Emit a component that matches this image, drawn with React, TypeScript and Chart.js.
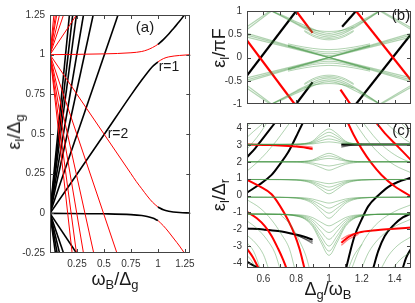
import React, { useEffect, useRef } from 'react';
import { Chart, registerables } from 'chart.js';

Chart.register(...registerables);

type P = [number, number];

const FONT = "'Liberation Sans', Arial, Helvetica, sans-serif";
const RED = '#ff0000';
const BLACK = '#000000';
const GREEN = 'rgba(70,150,70,0.42)';
const FRAME = '#444444';

// ---------------- panel (a) ----------------
const A_X_TICKS = [0.25, 0.5, 0.75, 1, 1.25];
const A_X_LABELS = ['0.25', '0.5', '0.75', '1', '1.25'];
const A_Y_TICKS = [-0.25, 0, 0.25, 0.5, 0.75, 1, 1.25];
const A_Y_LABELS = ['-0.25', '0', '0.25', '0.5', '0.75', '1', '1.25'];

// black levels leaving the origin (up and down)
const A_BLACK_FAN: P[][] = [
  [[0, 0], [0.63, 1.25]], [[0, 0], [0.40, 1.25]], [[0, 0], [0.31, 1.25]],
  [[0, 0], [0.245, 1.25]], [[0, 0], [0.21, 1.25]], [[0, 0], [0.18, 1.25]],
  [[0, 0], [0.245, -0.25]], [[0, 0], [0.125, -0.25]], [[0, 0], [0.088, -0.25]],
  [[0, 0], [0.066, -0.25]], [[0, 0], [0.05, -0.25]],
];
// red levels leaving (0,1) (up and down)
const A_RED_FAN: P[][] = [
  [[0, 1], [0.245, 1.25]], [[0, 1], [0.125, 1.25]], [[0, 1], [0.088, 1.25]],
  [[0, 1], [0.062, 1.25]], [[0, 1], [0.05, 1.25]], [[0, 1], [0.036, 1.25]],
  [[0, 1], [0.62, -0.25]], [[0, 1], [0.405, -0.25]], [[0, 1], [0.31, -0.25]],
  [[0, 1], [0.245, -0.25]], [[0, 1], [0.205, -0.25]],
];
// anticrossing branches
const A_LOWER1_BLACK: P[] = [[0, 0], [0.5, 0.495], [0.75, 0.745], [0.85, 0.84], [0.9, 0.885], [0.95, 0.925], [1.0, 0.955]];
const A_LOWER1_RED: P[] = [[1.0, 0.955], [1.05, 0.975], [1.1, 0.986], [1.2, 0.995], [1.3, 1.0]];
const A_UPPER1_RED: P[] = [[0, 1], [0.5, 1.005], [0.75, 1.012], [0.85, 1.02], [0.9, 1.03], [0.95, 1.045], [1.0, 1.065]];
const A_UPPER1_BLACK: P[] = [[1.0, 1.065], [1.05, 1.095], [1.1, 1.13], [1.15, 1.17], [1.2, 1.21], [1.245, 1.25]];
const A_UPPER0_RED: P[] = [[0, 1], [0.5, 0.5], [0.75, 0.25], [0.8, 0.2], [0.85, 0.155], [0.9, 0.11], [0.95, 0.07], [1.0, 0.04]];
const A_UPPER0_BLACK: P[] = [[1.0, 0.04], [1.05, 0.022], [1.1, 0.013], [1.2, 0.005], [1.3, 0.002]];
const A_LOWER0_BLACK: P[] = [[0, 0], [0.5, -0.003], [0.75, -0.008], [0.85, -0.014], [0.9, -0.02], [0.95, -0.03], [1.0, -0.045]];
const A_LOWER0_RED: P[] = [[1.0, -0.045], [1.05, -0.078], [1.1, -0.118], [1.15, -0.162], [1.2, -0.206], [1.245, -0.25]];

// ---------------- panel (b) ----------------
const BC_X_TICKS = [0.6, 0.7, 0.8, 0.9, 1, 1.1, 1.2, 1.3, 1.4];
const BC_X_LABELS = ['0.6', '', '0.8', '', '1', '', '1.2', '', '1.4'];
const B_Y_TICKS = [-1, -0.5, 0, 0.5, 1];
const B_Y_LABELS = ['-1', '-0.5', '0', '0.5', '1'];

const B_BLACK: P[][] = [
  [[0.5, -0.39], [0.8, 1.0]],
  [[0.8, -1.0], [0.9, -0.53]],
  [[1.08, 0.66], [1.165, 1.0]],
  [[1.165, -1.0], [1.5, 0.5]],
];
const B_RED: P[][] = [
  [[0.5, 0.37], [0.79, -1.0]],
  [[0.8, 1.0], [0.9, 0.53]],
  [[1.165, 1.0], [1.5, -0.49]],
  [[1.07, -0.69], [1.13, -1.0]],
];
const B_GREEN_DIAG: P[][] = [
  [[0.5, 0.44], [1.5, -0.44]], [[0.5, 0.48], [1.5, -0.48]], [[0.5, 0.52], [1.5, -0.52]],
  [[0.5, -0.44], [1.5, 0.44]], [[0.5, -0.48], [1.5, 0.48]], [[0.5, -0.52], [1.5, 0.52]],
];
const B_ARC_X = [0.75, 0.8, 0.85, 0.9, 0.95, 1.0, 1.05, 1.1, 1.15, 1.2, 1.25];
const B_ARCS_UP = [
  [0.243, 0.196, 0.149, 0.104, 0.062, 0.04, 0.062, 0.104, 0.149, 0.196, 0.243],
  [0.253, 0.208, 0.165, 0.125, 0.093, 0.08, 0.093, 0.125, 0.165, 0.208, 0.253],
  [0.268, 0.226, 0.187, 0.153, 0.129, 0.12, 0.129, 0.153, 0.187, 0.226, 0.268],
  [0.294, 0.256, 0.223, 0.196, 0.177, 0.17, 0.177, 0.196, 0.223, 0.256, 0.294],
];
const B_ARCS_DOWN = [
  [-0.243, -0.196, -0.149, -0.104, -0.062, -0.04, -0.062, -0.104, -0.149, -0.196, -0.243],
  [-0.253, -0.208, -0.165, -0.125, -0.093, -0.08, -0.093, -0.125, -0.165, -0.208, -0.253],
  [-0.268, -0.226, -0.187, -0.153, -0.129, -0.12, -0.129, -0.153, -0.187, -0.226, -0.268],
  [-0.294, -0.256, -0.223, -0.196, -0.177, -0.17, -0.177, -0.196, -0.223, -0.256, -0.294],
];
const B_U_X = [0.65, 0.72, 0.8, 0.87, 0.93, 1.0, 1.07, 1.13, 1.2, 1.26, 1.31];
const B_U_TOP = [
  [1.0, 0.88, 0.74, 0.62, 0.53, 0.48, 0.53, 0.62, 0.76, 0.89, 1.0],
  [1.0, 0.87, 0.72, 0.59, 0.49, 0.44, 0.49, 0.59, 0.74, 0.88, 1.0],
  [1.0, 0.9, 0.77, 0.66, 0.57, 0.52, 0.57, 0.66, 0.79, 0.91, 1.0],
];
const B_U_BOTTOM = [
  [-1.0, -0.88, -0.74, -0.62, -0.53, -0.48, -0.53, -0.62, -0.76, -0.89, -1.0],
  [-1.0, -0.87, -0.72, -0.59, -0.49, -0.44, -0.49, -0.59, -0.74, -0.88, -1.0],
  [-1.0, -0.9, -0.77, -0.66, -0.57, -0.52, -0.57, -0.66, -0.79, -0.91, -1.0],
];
const B_INNER_X = [0.85, 0.9, 0.95, 1, 1.05, 1.1, 1.15];
const B_INNER = [
  [0.56, 0.46, 0.4, 0.38, 0.4, 0.46, 0.56],
  [0.58, 0.49, 0.43, 0.41, 0.43, 0.49, 0.58],
  [0.66, 0.6, 0.57, 0.56, 0.57, 0.6, 0.66],
  [-0.56, -0.46, -0.4, -0.38, -0.4, -0.46, -0.56],
  [-0.58, -0.49, -0.43, -0.41, -0.43, -0.49, -0.58],
  [-0.66, -0.6, -0.57, -0.56, -0.57, -0.6, -0.66],
];
const B_GREEN_EDGES: P[][] = [
  [[0.5, 0.6], [0.65, 1.0]], [[0.5, 0.66], [0.64, 1.0]],
  [[1.31, 1.0], [1.5, 0.6]], [[1.32, 1.0], [1.5, 0.64]],
  [[0.5, -0.6], [0.65, -1.0]], [[0.5, -0.66], [0.64, -1.0]],
  [[1.31, -1.0], [1.5, -0.6]], [[1.32, -1.0], [1.5, -0.64]],
];

// ---------------- panel (c) ----------------
const C_Y_TICKS = [-4, -3, -2, -1, 0, 1, 2, 3, 4];
const C_Y_LABELS = ['-4', '-3', '-2', '-1', '0', '1', '2', '3', '4'];
const C_X = [0.5, 0.7, 0.8, 0.85, 0.9, 0.95, 1.0, 1.05, 1.1, 1.15, 1.2, 1.3, 1.5];
const C_BANDS = [
  [3.03, 3.03, 3.04, 3.08, 3.23, 3.66, 3.95, 3.66, 3.23, 3.08, 3.04, 3.03, 3.03],
  [3.03, 3.03, 3.04, 3.07, 3.19, 3.52, 3.75, 3.52, 3.19, 3.07, 3.04, 3.03, 3.03],
  [3.03, 3.03, 3.04, 3.06, 3.14, 3.38, 3.55, 3.38, 3.14, 3.06, 3.04, 3.03, 3.03],
  [3.03, 3.03, 3.03, 3.05, 3.1, 3.25, 3.35, 3.25, 3.1, 3.05, 3.03, 3.03, 3.03],
  [3.03, 3.03, 3.03, 3.04, 3.06, 3.13, 3.18, 3.13, 3.06, 3.04, 3.03, 3.03, 3.03],
  [2, 2, 2.01, 2.03, 2.11, 2.34, 2.5, 2.34, 2.11, 2.03, 2.01, 2, 2],
  [2, 2, 2, 2.02, 2.08, 2.24, 2.35, 2.24, 2.08, 2.02, 2, 2, 2],
  [2, 2, 2, 2.01, 2.04, 2.14, 2.2, 2.14, 2.04, 2.01, 2, 2, 2],
  [2, 2, 1.99, 1.97, 1.93, 1.83, 1.75, 1.83, 1.93, 1.97, 1.99, 2, 2],
  [2, 1.99, 1.98, 1.94, 1.85, 1.66, 1.5, 1.66, 1.85, 1.94, 1.98, 1.99, 2],
  [0.95, 0.95, 0.94, 0.92, 0.88, 0.78, 0.7, 0.78, 0.88, 0.92, 0.94, 0.95, 0.95],
  [0.95, 0.95, 0.93, 0.9, 0.82, 0.64, 0.5, 0.64, 0.82, 0.9, 0.93, 0.95, 0.95],
  [0.95, 0.94, 0.92, 0.87, 0.76, 0.51, 0.3, 0.51, 0.76, 0.87, 0.92, 0.94, 0.95],
  [0.95, 0.94, 0.91, 0.85, 0.7, 0.37, 0.1, 0.37, 0.7, 0.85, 0.91, 0.94, 0.95],
  [-0.1, -0.1, -0.12, -0.14, -0.21, -0.34, -0.45, -0.34, -0.21, -0.14, -0.12, -0.1, -0.1],
  [-0.1, -0.11, -0.13, -0.18, -0.3, -0.54, -0.75, -0.54, -0.3, -0.18, -0.13, -0.11, -0.1],
  [-0.1, -0.11, -0.15, -0.21, -0.39, -0.75, -1.05, -0.75, -0.39, -0.21, -0.15, -0.11, -0.1],
  [-0.1, -0.11, -0.16, -0.25, -0.48, -0.95, -1.35, -0.95, -0.48, -0.25, -0.16, -0.11, -0.1],
  [-1.1, -1.11, -1.14, -1.18, -1.31, -1.58, -1.8, -1.58, -1.31, -1.18, -1.14, -1.11, -1.1],
  [-1.1, -1.11, -1.16, -1.23, -1.43, -1.85, -2.2, -1.85, -1.43, -1.23, -1.16, -1.11, -1.1],
  [-1.1, -1.12, -1.18, -1.28, -1.55, -2.12, -2.6, -2.12, -1.55, -1.28, -1.18, -1.12, -1.1],
  [-1.1, -1.12, -1.2, -1.33, -1.67, -2.39, -3.0, -2.39, -1.67, -1.33, -1.2, -1.12, -1.1],
  [-1.1, -1.12, -1.21, -1.36, -1.76, -2.6, -3.3, -2.6, -1.76, -1.36, -1.21, -1.12, -1.1],
  [-1.1, -1.12, -1.22, -1.39, -1.84, -2.77, -3.55, -2.77, -1.84, -1.39, -1.22, -1.12, -1.1],
];
const C_GREEN_ARCS: P[][] = [
  [[0.5, 4.05], [0.52, 4.3]],
  [[0.5, 3.45], [0.54, 3.8], [0.6, 4.3]],
  [[0.5, 2.75], [0.54, 3.2], [0.58, 3.7], [0.62, 4.3]],
  [[0.5, 1.45], [0.56, 1.95], [0.62, 2.55], [0.68, 3.25], [0.73, 3.9], [0.76, 4.3]],
  [[0.5, -0.25], [0.58, -0.75], [0.65, -1.45], [0.71, -2.3], [0.76, -3.2], [0.79, -4.3]],
  [[0.5, -1.5], [0.56, -1.95], [0.62, -2.6], [0.67, -3.4], [0.7, -4.3]],
  [[0.5, -2.35], [0.55, -2.8], [0.6, -3.5], [0.63, -4.3]],
  [[0.5, -2.8], [0.54, -3.3], [0.58, -4.3]],
  [[0.5, -3.55], [0.53, -3.9], [0.55, -4.3]],
  [[0.7, -1.1], [0.77, -1.8], [0.82, -2.7], [0.86, -3.6], [0.88, -4.3]],
  [[1.16, 4.3], [1.22, 3.45], [1.3, 2.55], [1.4, 1.8], [1.5, 1.35]],
  [[1.21, 4.3], [1.27, 3.55], [1.34, 2.85], [1.42, 2.3], [1.5, 1.95]],
  [[1.35, 4.3], [1.41, 3.75], [1.46, 3.35], [1.5, 3.1]],
  [[1.44, 4.3], [1.47, 4.0], [1.5, 3.75]],
  [[1.14, -4.3], [1.18, -3.3], [1.23, -2.4], [1.3, -1.6], [1.4, -0.95], [1.5, -0.55]],
  [[1.2, -4.3], [1.24, -3.4], [1.3, -2.6], [1.38, -1.95], [1.5, -1.4]],
  [[1.32, -4.3], [1.36, -3.6], [1.42, -2.95], [1.5, -2.45]],
  [[1.39, -4.3], [1.44, -3.75], [1.5, -3.35]],
  [[1.12, -4.3], [1.15, -3.6], [1.2, -2.9]],
];
const C_BLACK: P[][] = [
  [[0.5, 0.17], [0.575, 0.65], [0.65, 1.22], [0.7, 1.85], [0.75, 2.55], [0.78, 3.1], [0.81, 3.7], [0.84, 4.3]],
  [[0.5, 2.27], [0.55, 2.8], [0.59, 3.3], [0.63, 3.8], [0.67, 4.3]],
  [[0.5, -1.96], [0.6, -2.02], [0.69, -2.11], [0.79, -2.3], [0.85, -2.45], [0.9, -2.63]],
  [[0.5, -3.92], [0.53, -4.1], [0.57, -4.3]],
  [[1.075, 3.03], [1.2, 3.03], [1.35, 3.03], [1.5, 3.03]],
  [[1.105, -4.3], [1.13, -3.3], [1.156, -2.4], [1.2, -1.4], [1.24, -0.63], [1.3, 0.0], [1.36, 0.5], [1.42, 0.8], [1.5, 1.05]],
  [[1.27, -4.3], [1.3, -3.3], [1.34, -2.4], [1.4, -1.7], [1.45, -1.3], [1.5, -1.07]],
  [[1.45, -4.3], [1.47, -3.7], [1.5, -3.16]],
];
const C_BLACK_FAN: P[][] = [
  [[0.78, -2.28], [0.85, -2.55], [0.9, -2.75]],
  [[0.8, -2.32], [0.86, -2.62], [0.9, -2.85]],
  [[1.075, 2.86], [1.12, 2.96], [1.2, 3.02]],
  [[1.075, 2.94], [1.12, 3.0], [1.2, 3.03]],
];
const C_RED: P[][] = [
  [[0.5, 3.03], [0.6, 3.0], [0.7, 2.97], [0.8, 2.9], [0.9, 2.78]],
  [[0.5, 0.93], [0.575, 0.55], [0.65, 0.07], [0.7, -0.6], [0.75, -1.45], [0.79, -2.3], [0.82, -3.16], [0.85, -4.3]],
  [[0.5, -0.97], [0.56, -1.35], [0.61, -1.83], [0.65, -2.4], [0.69, -3.16], [0.72, -3.8], [0.74, -4.3]],
  [[0.5, -3.16], [0.535, -3.65], [0.57, -4.3]],
  [[1.116, 4.3], [1.15, 3.6], [1.2, 2.75], [1.26, 1.9], [1.32, 1.22], [1.4, 0.55], [1.5, -0.05]],
  [[1.29, 4.3], [1.34, 3.7], [1.4, 3.1], [1.45, 2.6], [1.5, 2.1]],
  [[1.075, -2.8], [1.12, -2.45], [1.18, -2.2], [1.3, -2.05], [1.4, -1.97], [1.5, -1.9]],
];
const C_RED_FAN: P[][] = [
  [[0.8, 2.92], [0.86, 2.85], [0.9, 2.72]],
  [[0.8, 2.94], [0.86, 2.92], [0.9, 2.86]],
  [[1.075, -2.95], [1.12, -2.6], [1.18, -2.3]],
  [[1.075, -2.6], [1.12, -2.35], [1.18, -2.22]],
];

// ---------------- helpers ----------------
const zip = (xs: number[], ys: number[]): P[] => xs.map((x, i) => [x, ys[i]]);

const ds = (pts: P[], color: string, width: number, smooth = false) => ({
  data: pts.map(([x, y]) => ({ x, y })),
  borderColor: color,
  backgroundColor: color,
  borderWidth: width,
  showLine: true,
  pointRadius: 0,
  fill: false,
  tension: 0,
  cubicInterpolationMode: smooth ? 'monotone' : 'default',
});

const framePlugin = {
  id: 'frameTicks',
  afterDraw(chart: any) {
    const { ctx, chartArea: a, scales } = chart;
    const L = 4;
    ctx.save();
    ctx.strokeStyle = FRAME;
    ctx.lineWidth = 1;
    ctx.beginPath();
    for (const t of scales.x.ticks) {
      const px = Math.round(scales.x.getPixelForValue(t.value)) + 0.5;
      if (px <= a.left + 1 || px >= a.right - 1) continue;
      ctx.moveTo(px, a.bottom); ctx.lineTo(px, a.bottom - L);
      ctx.moveTo(px, a.top); ctx.lineTo(px, a.top + L);
    }
    for (const t of scales.y.ticks) {
      const py = Math.round(scales.y.getPixelForValue(t.value)) + 0.5;
      if (py <= a.top + 1 || py >= a.bottom - 1) continue;
      ctx.moveTo(a.left, py); ctx.lineTo(a.left + L, py);
      ctx.moveTo(a.right, py); ctx.lineTo(a.right - L, py);
    }
    ctx.stroke();
    ctx.strokeRect(Math.round(a.left) + 0.5, Math.round(a.top) + 0.5, Math.round(a.right - a.left) - 1, Math.round(a.bottom - a.top) - 1);
    ctx.restore();
  },
};

function makeConfig(opts: {
  datasets: any[];
  xr: [number, number];
  yr: [number, number];
  xTicks: number[];
  xLabels: string[];
  yTicks: number[];
  yLabels: string[];
  showXLabels: boolean;
  padding: any;
  yWidth: number;
  xHeight: number;
}) {
  const tickFont = { family: FONT, size: 10 };
  return {
    type: 'scatter',
    data: { datasets: opts.datasets },
    options: {
      animation: false,
      responsive: false,
      events: [],
      layout: { padding: opts.padding },
      plugins: { legend: { display: false }, tooltip: { enabled: false } },
      scales: {
        x: {
          type: 'linear',
          min: opts.xr[0],
          max: opts.xr[1],
          grid: { display: false, drawTicks: false },
          border: { display: false },
          afterBuildTicks: (s: any) => { s.ticks = opts.xTicks.map((v) => ({ value: v })); },
          afterFit: (s: any) => { s.height = opts.xHeight; },
          ticks: {
            display: opts.showXLabels,
            autoSkip: false,
            maxRotation: 0,
            padding: 5,
            color: '#333',
            font: tickFont,
            callback: (_v: any, i: number) => opts.xLabels[i],
          },
        },
        y: {
          type: 'linear',
          min: opts.yr[0],
          max: opts.yr[1],
          grid: { display: false, drawTicks: false },
          border: { display: false },
          afterBuildTicks: (s: any) => { s.ticks = opts.yTicks.map((v) => ({ value: v })); },
          afterFit: (s: any) => { s.width = opts.yWidth; },
          ticks: {
            autoSkip: false,
            padding: 5,
            color: '#333',
            font: tickFont,
            callback: (_v: any, i: number) => opts.yLabels[i],
          },
        },
      },
    },
    plugins: [framePlugin],
  };
}

function Sub({ children }: { children: React.ReactNode }) {
  return <span style={{ fontSize: '0.72em', position: 'relative', top: '0.32em' }}>{children}</span>;
}

function Label({ x, y, size, rotate, children }: { x: number; y: number; size: number; rotate?: boolean; children: React.ReactNode }) {
  return (
    <div
      style={{
        position: 'absolute',
        left: x,
        top: y,
        transform: `translate(-50%, -50%)${rotate ? ' rotate(-90deg)' : ''}`,
        fontFamily: FONT,
        fontSize: size,
        lineHeight: 1,
        color: '#1a1a1a',
        whiteSpace: 'nowrap',
      }}
    >
      {children}
    </div>
  );
}

export default function App() {
  const refA = useRef<HTMLCanvasElement>(null);
  const refB = useRef<HTMLCanvasElement>(null);
  const refC = useRef<HTMLCanvasElement>(null);

  useEffect(() => {
    const aSets = [
      ...A_RED_FAN.map((p) => ds(p, RED, 1)),
      ds(A_UPPER1_RED, RED, 1, true),
      ds(A_LOWER1_RED, RED, 1, true),
      ds(A_UPPER0_RED, RED, 1, true),
      ds(A_LOWER0_RED, RED, 1, true),
      ...A_BLACK_FAN.map((p) => ds(p, BLACK, 1.6)),
      ds(A_LOWER1_BLACK, BLACK, 1.6, true),
      ds(A_UPPER1_BLACK, BLACK, 1.6, true),
      ds(A_UPPER0_BLACK, BLACK, 1.6, true),
      ds(A_LOWER0_BLACK, BLACK, 1.6, true),
    ];
    const bSets = [
      ...B_GREEN_DIAG.map((p) => ds(p, GREEN, 1.3)),
      ...B_ARCS_UP.map((ys) => ds(zip(B_ARC_X, ys), GREEN, 1, true)),
      ...B_ARCS_DOWN.map((ys) => ds(zip(B_ARC_X, ys), GREEN, 1, true)),
      ...B_U_TOP.map((ys) => ds(zip(B_U_X, ys), GREEN, 1.2, true)),
      ...B_U_BOTTOM.map((ys) => ds(zip(B_U_X, ys), GREEN, 1.2, true)),
      ...B_INNER.map((ys) => ds(zip(B_INNER_X, ys), GREEN, 1, true)),
      ...B_GREEN_EDGES.map((p) => ds(p, GREEN, 1.2)),
      ...B_RED.map((p) => ds(p, RED, 2.2)),
      ...B_BLACK.map((p) => ds(p, BLACK, 2.2)),
    ];
    const cSets = [
      ...C_BANDS.map((ys) => ds(zip(C_X, ys), GREEN, 1, true)),
      ...C_GREEN_ARCS.map((p) => ds(p, GREEN, 1, true)),
      ...C_RED_FAN.map((p) => ds(p, 'rgba(255,0,0,0.5)', 1.2, true)),
      ...C_BLACK_FAN.map((p) => ds(p, 'rgba(0,0,0,0.5)', 1.2, true)),
      ...C_RED.map((p) => ds(p, RED, 2, true)),
      ...C_BLACK.map((p) => ds(p, BLACK, 2, true)),
    ];

    const chartA = new Chart(refA.current as any, makeConfig({
      datasets: aSets, xr: [0, 1.3], yr: [-0.25, 1.25],
      xTicks: A_X_TICKS, xLabels: A_X_LABELS, yTicks: A_Y_TICKS, yLabels: A_Y_LABELS,
      showXLabels: true, padding: { left: 0, top: 15, right: 9, bottom: 0 }, yWidth: 50, xHeight: 50,
    }) as any);
    const chartB = new Chart(refB.current as any, makeConfig({
      datasets: bSets, xr: [0.5, 1.5], yr: [-1, 1],
      xTicks: BC_X_TICKS, xLabels: BC_X_LABELS, yTicks: B_Y_TICKS, yLabels: B_Y_LABELS,
      showXLabels: false, padding: { left: 0, top: 6, right: 4, bottom: 7 }, yWidth: 47, xHeight: 0,
    }) as any);
    const chartC = new Chart(refC.current as any, makeConfig({
      datasets: cSets, xr: [0.5, 1.5], yr: [-4.3, 4.3],
      xTicks: BC_X_TICKS, xLabels: BC_X_LABELS, yTicks: C_Y_TICKS, yLabels: C_Y_LABELS,
      showXLabels: true, padding: { left: 0, top: 6, right: 4, bottom: 0 }, yWidth: 47, xHeight: 35,
    }) as any);
    return () => {
      chartA.destroy();
      chartB.destroy();
      chartC.destroy();
    };
  }, []);

  return (
    <div style={{ position: 'fixed', left: 0, top: 0, width: 415, height: 303, background: '#fff', overflow: 'hidden' }}>
      <canvas ref={refA} width={200} height={303} style={{ position: 'absolute', left: 0, top: 0, width: 200, height: 303 }} />
      <canvas ref={refB} width={215} height={115} style={{ position: 'absolute', left: 200, top: 0, width: 215, height: 115 }} />
      <canvas ref={refC} width={215} height={191} style={{ position: 'absolute', left: 200, top: 112, width: 215, height: 191 }} />

      <Label x={145} y={26} size={15}>(a)</Label>
      <Label x={169} y={66} size={14}>r=1</Label>
      <Label x={118} y={133} size={14}>r=2</Label>
      <Label x={401} y={14} size={15}>(b)</Label>
      <Label x={401} y={129} size={15}>(c)</Label>

      <Label x={14} y={132} size={18} rotate>ε<Sub>l</Sub>/Δ<Sub>g</Sub></Label>
      <Label x={115} y={279} size={18}>ω<Sub>B</Sub>/Δ<Sub>g</Sub></Label>
      <Label x={219} y={48} size={18} rotate>ε<Sub>l</Sub>/πF</Label>
      <Label x={219} y={195} size={18} rotate>ε<Sub>l</Sub>/Δ<Sub>r</Sub></Label>
      <Label x={328} y={289} size={18}>Δ<Sub>g</Sub>/ω<Sub>B</Sub></Label>
    </div>
  );
}
